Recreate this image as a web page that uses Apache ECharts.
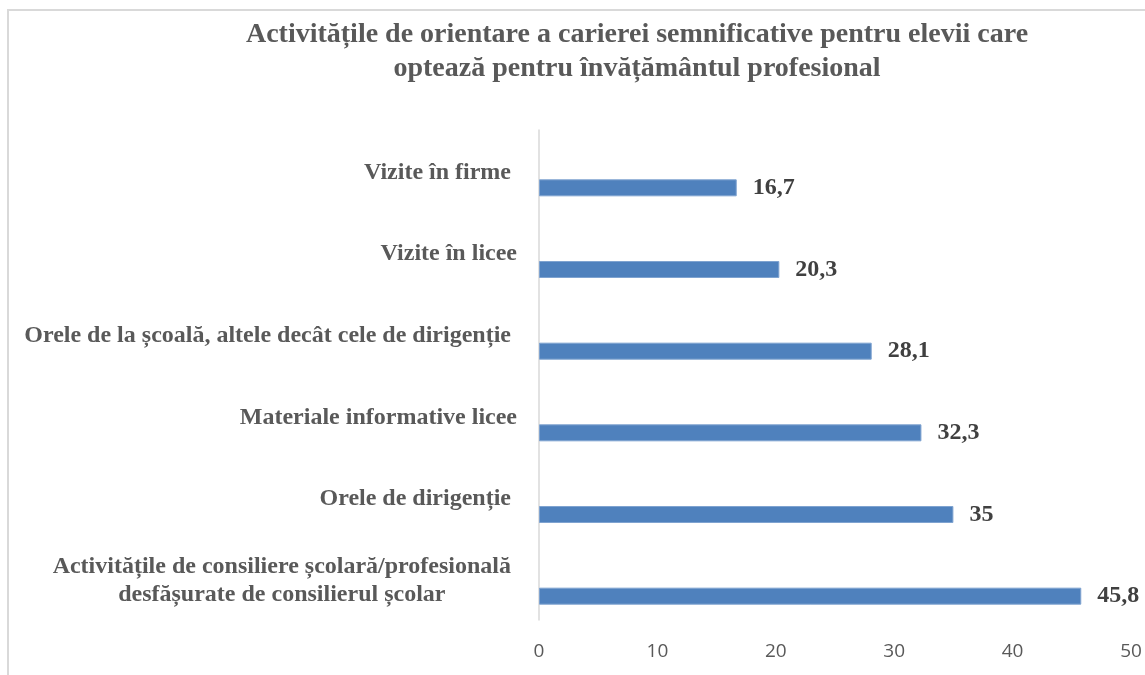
<!DOCTYPE html>
<html>
<head>
<meta charset="utf-8">
<script src="https://cdn.jsdelivr.net/npm/echarts@6/dist/echarts.min.js"></script>
<style>html,body{margin:0;padding:0;background:#fff}#chart{width:1145px;height:675px}</style>
</head>
<body>
<div id="chart"></div>
<script>
const titleLines = ['Activitățile de orientare a carierei semnificative pentru elevii care', 'optează pentru învățământul profesional'];
const categories = [
  'Activitățile de consiliere școlară/profesională \ndesfășurate de consilierul școlar ',
  'Orele de dirigenție ',
  'Materiale informative licee',
  'Orele de la școală, altele decât cele de dirigenție ',
  'Vizite în licee',
  'Vizite în firme '
];
const values = [45.8, 35, 32.3, 28.1, 20.3, 16.7];
const spacer = [0, 0, 0, 0, 0, 0];
const xTicks = [0, 10, 20, 30, 40, 50];

const serif = '"Liberation Serif", "Times New Roman", serif';
const chart = echarts.init(document.getElementById('chart'));
chart.setOption({
  animation: false,
  backgroundColor: '#ffffff',
  graphic: [{
    type: 'rect', silent: true, z: -1,
    shape: { x: 8, y: 10, width: 1200, height: 720 },
    style: { fill: 'none', stroke: '#d9d9d9', lineWidth: 2 }
  }],
  title: {
    text: titleLines.join('\n'),
    left: 632, top: 13, textAlign: 'center',
    textStyle: { fontFamily: serif, fontWeight: 'bold', fontSize: 28, lineHeight: 34, color: '#595959' }
  },
  grid: { left: 539, right: 14, top: 130, bottom: 55, containLabel: false },
  xAxis: {
    type: 'value', min: 0, max: 50, interval: 10,
    axisLine: { show: false }, axisTick: { show: false }, splitLine: { show: false },
    axisLabel: {
      margin: 22, color: '#595959', fontSize: 19, fontFamily: '"Open Sans", sans-serif',
      formatter: v => xTicks.includes(v) ? String(v) : ''
    }
  },
  yAxis: {
    type: 'category', data: categories,
    axisLine: { show: true, lineStyle: { color: '#d9d9d9', width: 1.5 } },
    axisTick: { show: false },
    axisLabel: {
      margin: 22, align: 'right',
      formatter: v => v.split('\n').map(l => '{c|' + l + '}').join('\n'),
      rich: { c: { align: 'center', fontFamily: serif, fontWeight: 'bold', fontSize: 24, lineHeight: 28, color: '#595959', padding: [3, 0, 0, 0] } }
    }
  },
  series: [
    {
      type: 'bar', data: spacer, barWidth: 17, barGap: '100%', silent: true,
      itemStyle: { color: 'rgba(0,0,0,0)' }, label: { show: false }
    },
    {
      type: 'bar', data: values, barWidth: 17, barGap: '100%',
      itemStyle: { color: '#4f81bd', borderColor: '#7fa3d0', borderWidth: 1 },
      label: {
        show: true, position: 'right', distance: 16,
        formatter: p => String(p.value).replace('.', ','),
        fontFamily: serif, fontWeight: 'bold', fontSize: 24, color: '#404040'
      }
    }
  ]
});
</script>
</body>
</html>
